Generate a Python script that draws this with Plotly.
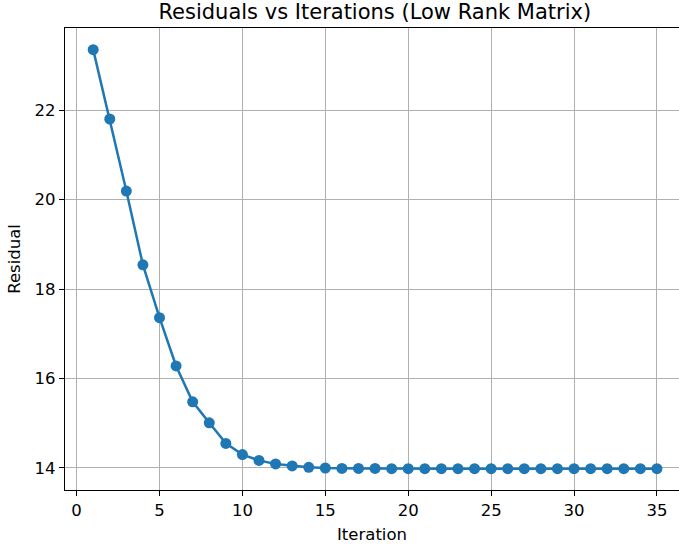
import plotly.graph_objects as go

iterations = list(range(1, 36))
residuals = [23.35, 21.80, 20.19, 18.54, 17.36, 16.28, 15.48, 15.01, 14.55, 14.30,
             14.17, 14.09, 14.045, 14.015, 14.00, 13.99, 13.99, 13.99, 13.985, 13.985,
             13.985, 13.985, 13.985, 13.985, 13.985, 13.985, 13.985, 13.985, 13.985, 13.985,
             13.985, 13.985, 13.985, 13.985, 13.985]

x_ticks = [0, 5, 10, 15, 20, 25, 30, 35]
y_ticks = [14, 16, 18, 20, 22]

fig = go.Figure()
fig.add_trace(go.Scatter(
    x=iterations, y=residuals, mode="lines+markers",
    line=dict(color="#1f77b4", width=2.5),
    marker=dict(color="#1f77b4", size=11),
    showlegend=False,
    cliponaxis=False,
))

font = "DejaVu Sans, sans-serif"
axis_common = dict(
    showline=True, linecolor="black", linewidth=1.2,
    ticks="outside", ticklen=5, tickwidth=1.2, tickcolor="black",
    showgrid=True, gridcolor="#b0b0b0", gridwidth=1.2,
    zeroline=False, automargin=False,
    tickfont=dict(family=font, size=16.5, color="black"),
)

fig.update_layout(
    width=679, height=547,
    margin=dict(l=65, r=0, t=28, b=57),
    paper_bgcolor="white", plot_bgcolor="white",
    title=dict(text="Residuals vs Iterations (Low Rank Matrix)",
               font=dict(family=font, size=21, color="black"),
               x=0.552, xanchor="center", y=0.978, yanchor="middle", automargin=False),
    xaxis=dict(range=[-0.7, 36.33], tickvals=x_ticks, mirror=True,
               title=dict(text="Iteration", font=dict(family=font, size=16.5, color="black"), standoff=9),
               **axis_common),
    yaxis=dict(range=[13.508, 23.834], tickvals=y_ticks, mirror=False,
               title=dict(text="Residual", font=dict(family=font, size=16.5, color="black"), standoff=9),
               **axis_common),
)

fig.write_html("out.html", config={"displayModeBar": False},
               post_script="document.body.style.margin='0';document.body.style.overflow='hidden';")
